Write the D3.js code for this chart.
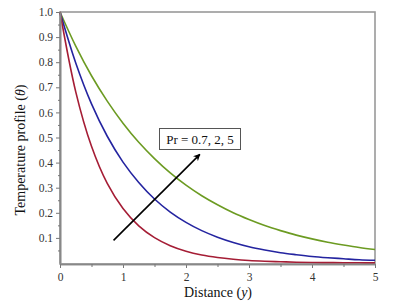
<!DOCTYPE html>
<html><head><meta charset="utf-8">
<script src="https://cdn.jsdelivr.net/npm/d3@7"></script>
<style>body{margin:0;background:#fff}svg{display:block}</style>
</head><body>
<script>
const xs = [0,0.25,0.5,0.75,1,1.25,1.5,1.75,2,2.25,2.5,2.75,3,3.25,3.5,3.75,4,4.25,4.5,4.75,5];
const pr07 = [1,0.864,0.746,0.645,0.557,0.481,0.416,0.359,0.310,0.268,0.232,0.200,0.173,0.149,0.129,0.111,0.096,0.083,0.072,0.062,0.054];
const pr2  = [1,0.797,0.634,0.505,0.402,0.321,0.255,0.203,0.162,0.129,0.103,0.082,0.065,0.052,0.041,0.033,0.026,0.021,0.017,0.013,0.011];
const pr5  = [1,0.682,0.465,0.317,0.217,0.148,0.101,0.069,0.047,0.032,0.022,0.015,0.010,0.007,0.005,0.003,0.002,0.0015,0.001,0.0007,0.0005];
const xTicks = [0,1,2,3,4,5];
const yTicks = [0.1,0.2,0.3,0.4,0.5,0.6,0.7,0.8,0.9,1.0];
const series = [
  {name:"Pr = 0.7", values:pr07, color:"#6c9b22"},
  {name:"Pr = 2", values:pr2, color:"#2424a0"},
  {name:"Pr = 5", values:pr5, color:"#a51d35"}
];
const arrowFrom = [0.85, 0.09], arrowTo = [2.22, 0.433];
const labelText = "Pr = 0.7, 2, 5";

const W=413,H=304;
const svg=d3.select("body").append("svg").attr("width",W).attr("height",H);
const x=d3.scaleLinear().domain([0,5]).range([60,375]);
const y=d3.scaleLinear().domain([0,1]).range([263,12]);
const font="'Liberation Serif','Times New Roman',serif";

svg.append("defs").append("marker").attr("id","ah").attr("viewBox","0 0 10 10")
 .attr("refX",9).attr("refY",5).attr("markerWidth",7).attr("markerHeight",7)
 .attr("markerUnits","userSpaceOnUse").attr("orient","auto")
 .append("path").attr("d","M0,0L10,5L0,10L3,5Z").attr("fill","#000");

// frame
svg.append("rect").attr("x",60).attr("y",12).attr("width",315).attr("height",252)
 .attr("fill","none").attr("stroke","#999").attr("stroke-width",1.6);

const line=d3.line().x((d,i)=>x(xs[i])).y(d=>y(d)).curve(d3.curveCatmullRom);
series.forEach(s=>{
  svg.append("path").attr("d",line(s.values)).attr("fill","none")
   .attr("stroke",s.color).attr("stroke-width",1.6);
});

// axes
const yAx=svg.append("g").attr("transform","translate(60,0)")
 .call(d3.axisLeft(y).tickValues(yTicks).tickFormat(d3.format(".1f")).tickSize(4).tickSizeOuter(0));
const yMinor=svg.append("g").attr("transform","translate(60,0)")
 .call(d3.axisLeft(y).tickValues(d3.range(0.05,1.0,0.1)).tickFormat("").tickSize(2).tickSizeOuter(0));
const xAx=svg.append("g").attr("transform","translate(0,264)")
 .call(d3.axisBottom(x).tickValues(xTicks).tickFormat(d3.format("d")).tickSize(4).tickSizeOuter(0));
const xMinor=svg.append("g").attr("transform","translate(0,264)")
 .call(d3.axisBottom(x).tickValues([0.5,1.5,2.5,3.5,4.5]).tickFormat("").tickSize(3).tickSizeOuter(0));
[yAx,yMinor,xAx,xMinor].forEach(g=>{
  g.select(".domain").attr("stroke","#888").attr("stroke-width",1.6);
  g.selectAll(".tick line").attr("stroke","#777");
  g.selectAll("text").attr("font-family",font).attr("font-size",11.5).attr("fill","#333");
});
xAx.selectAll("text").attr("dy","0.9em");

// arrow
svg.append("line").attr("x1",x(arrowFrom[0])).attr("y1",y(arrowFrom[1]))
 .attr("x2",x(arrowTo[0])).attr("y2",y(arrowTo[1]))
 .attr("stroke","#000").attr("stroke-width",1.6).attr("marker-end","url(#ah)");

// label box
svg.append("rect").attr("x",159.5).attr("y",128.5).attr("width",81).attr("height",21)
 .attr("fill","#fff").attr("stroke","#555").attr("stroke-width",1);
svg.append("text").attr("x",200).attr("y",143.5).attr("text-anchor","middle")
 .attr("font-family",font).attr("font-size",13).attr("fill","#111").text(labelText);

// axis titles
const xt=svg.append("text").attr("x",218).attr("y",297).attr("text-anchor","middle")
 .attr("font-family",font).attr("font-size",14).attr("fill","#111");
xt.append("tspan").text("Distance (");
xt.append("tspan").attr("font-style","italic").text("y");
xt.append("tspan").text(")");
const yt=svg.append("text").attr("transform","translate(25,150) rotate(-90)").attr("text-anchor","middle")
 .attr("font-family",font).attr("font-size",14).attr("fill","#111");
yt.append("tspan").text("Temperature profile (");
yt.append("tspan").attr("font-style","italic").text("θ");
yt.append("tspan").text(")");
</script>
</body></html>
